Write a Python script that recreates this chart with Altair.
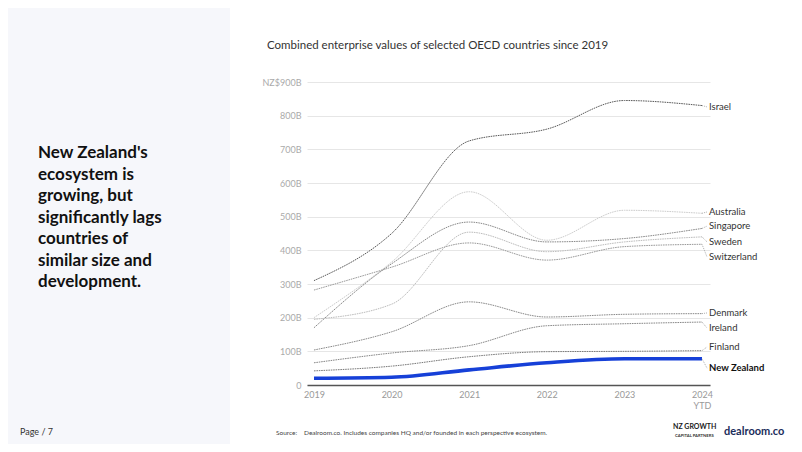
import altair as alt
import pandas as pd

years = [2019, 2020, 2021, 2022, 2023, 2024]
countries = ["Israel", "Australia", "Singapore", "Sweden", "Switzerland",
             "Denmark", "Ireland", "Finland", "New Zealand"]
israel = [310, 450, 725, 760, 845, 830]
australia = [200, 365, 574, 430, 519, 510]
singapore = [170, 360, 484, 425, 435, 465]
sweden = [195, 240, 454, 396, 425, 440]
switzerland = [282, 350, 422, 371, 411, 418]
denmark = [104, 158, 247, 202, 210, 212]
ireland = [66, 95, 117, 176, 182, 187]
finland = [42, 56, 84, 99, 100, 102]
new_zealand = [20, 23, 45, 66, 78, 78]
label_at = [826, 514, 472, 425, 380, 214, 169, 113, 50]
y_ticks = [0, 100, 200, 300, 400, 500, 600, 700, 800, 900]
line_colors = ["#5a5a5a", "#cdcdcd", "#8a8a8a", "#bdbdbd", "#9a9a9a",
               "#8a8a8a", "#888888", "#7a7a7a", "#1640d8"]

title_text = "Combined enterprise values of selected OECD countries since 2019"
headline = ["New Zealand's", "ecosystem is", "growing, but", "significantly lags",
            "countries of", "similar size and", "development."]
source_text = "Dealroom.co. Includes companies HQ and/or founded in each perspective ecosystem."

series = [israel, australia, singapore, sweden, switzerland, denmark, ireland, finland, new_zealand]
rows = []
for c, vals in zip(countries, series):
    for y, v in zip(years, vals):
        rows.append({"country": c, "year": y, "value": v})
df = pd.DataFrame(rows)
ends = pd.DataFrame({"country": countries, "year": [years[-1]] * len(countries),
                     "value": [s[-1] for s in series], "label_at": label_at,
                     "year2": [years[-1] + 0.065] * len(countries)})

FONT = "Lato"
one = pd.DataFrame({"a": [1]})

xscale = alt.Scale(domain=[2018.91, 2024.103], nice=False, zero=False)
yscale = alt.Scale(domain=[0, 900], nice=False)
xaxis = alt.Axis(values=years, format="d", grid=False, ticks=False, title=None,
                 domainColor="#555555", domainWidth=1.6,
                 labelColor="#999999", labelFontSize=9, labelFont=FONT,
                 labelPadding=5, labelOverlap=False,
                 labelExpr="datum.value == 2024 ? ['2024', 'YTD'] : datum.label")
yaxis = alt.Axis(values=y_ticks, domain=False, ticks=False, title=None,
                 gridColor="#e6e6e6", gridWidth=1,
                 labelColor="#aaaaaa", labelFontSize=9, labelFont=FONT,
                 labelPadding=6, labelOverlap=False, labelFlush=False,
                 labelExpr="datum.value == 900 ? 'NZ$900B' : (datum.value == 0 ? '0' : datum.value + 'B')")
X = alt.X("year:Q", scale=xscale, axis=xaxis, title=None)
Y = alt.Y("value:Q", scale=yscale, axis=yaxis, title=None)
YL = alt.Y("label_at:Q", scale=yscale, axis=yaxis, title=None)

panel = alt.Chart(one).mark_rect(color="#f6f7fb").encode(
    x=alt.value(-299), x2=alt.value(-77), y=alt.value(-74), y2=alt.value(362))

others = df[df.country != "New Zealand"]
nz = df[df.country == "New Zealand"]

lines = alt.Chart(others).mark_line(interpolate="monotone", strokeWidth=1, strokeDash=[1.6, 0.8]).encode(
    x=X, y=Y,
    color=alt.Color("country:N", scale=alt.Scale(domain=countries, range=line_colors), legend=None),
    detail="country:N",
)

nz_line = alt.Chart(nz).mark_line(interpolate="monotone", strokeWidth=3.6, color="#1640d8").encode(
    x=X, y=Y)

leaders = alt.Chart(ends).mark_rule(strokeWidth=0.8, strokeDash=[1, 1], color="#999999").encode(
    x=X, x2="year2:Q", y=Y, y2="label_at:Q")

labels = alt.Chart(ends[ends.country != "New Zealand"]).mark_text(
    align="left", baseline="middle", dx=7, fontSize=9.5, font=FONT, color="#333333").encode(
    x=X, y=YL, text="country:N")

nz_label = alt.Chart(ends[ends.country == "New Zealand"]).mark_text(
    align="left", baseline="middle", dx=7, fontSize=9.5, font=FONT, fontWeight="bold", color="#111111").encode(
    x=X, y=YL, text="country:N")

def txt(text, x, y, size, color="#333333", weight="normal", align="left", baseline="middle", **kw):
    return alt.Chart(one).mark_text(align=align, baseline=baseline, fontSize=size, font=FONT,
                                    fontWeight=weight, color=color, **kw).encode(
        x=alt.value(x), y=alt.value(y), text=alt.value(text))

title = txt(title_text, -40, -36, 11.5, "#333333")
head = txt(headline, -269, 76, 17, "#111111", "bold", baseline="alphabetic", lineHeight=21.5)
page = txt("Page / 7", -287, 350, 9, "#333333")
src1 = txt("Source:", -31, 351, 6.5, "#444444")
src2 = txt(source_text, -3, 351, 6.5, "#444444")
logo1 = txt("NZ GROWTH", 366, 345, 7, "#222222", "bold")
logo2 = txt("CAPITAL PARTNERS", 368, 354, 4.2, "#333333", "bold")
logo3 = txt("dealroom.co", 417, 350, 11, "#1b2d5b", "bold")

chart = alt.layer(panel, lines, nz_line, leaders, labels, nz_label,
                  title, head, page, src1, src2, logo1, logo2, logo3).properties(
    width=403, height=303,
    autosize=alt.AutoSizeParams(type="none"),
    padding={"left": 299, "top": 74, "right": 84, "bottom": 59},
    background="white",
).configure_view(stroke=None)

chart.save("out.html", embed_options={"renderer": "svg", "actions": False})
